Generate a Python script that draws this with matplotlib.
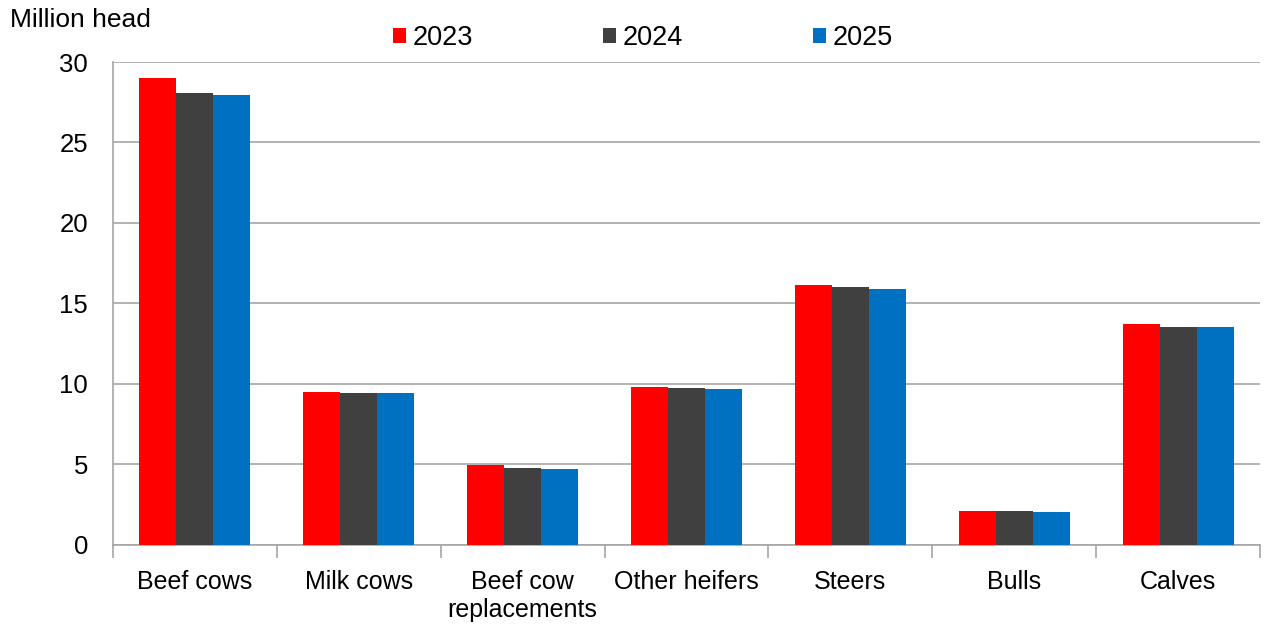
import numpy as np
import matplotlib
matplotlib.use('Agg')
import matplotlib.pyplot as plt

plt.rcParams['font.family'] = ['Liberation Sans', 'DejaVu Sans']

categories = ['Beef cows', 'Milk cows', 'Beef cow\nreplacements', 'Other heifers',
              'Steers', 'Bulls', 'Calves']
years = ['2023', '2024', '2025']
v2023 = [29.03, 9.46, 4.96, 9.79, 16.12, 2.08, 13.71]
v2024 = [28.08, 9.40, 4.78, 9.71, 16.01, 2.08, 13.55]
v2025 = [27.95, 9.40, 4.72, 9.65, 15.87, 2.04, 13.53]
colors = ['#FF0000', '#404040', '#0070C0']


def run():
    fig = plt.figure(figsize=(12.67, 6.29), dpi=100)
    ax = fig.add_axes([0.0892, 0.1343, 0.9053, 0.7671])

    x = np.arange(len(categories))
    w = 0.226
    for i, vals in enumerate([v2023, v2024, v2025]):
        ax.bar(x + (i - 1) * w, vals, w, color=colors[i], label=years[i], zorder=3)

    ax.set_xlim(-0.5, len(categories) - 0.5)
    ax.set_ylim(0, 30)
    ax.set_yticks(range(0, 31, 5))
    ax.yaxis.grid(True, color='#A6A6A6', linewidth=1.2, zorder=0)
    ax.set_xticks(x)
    ax.set_xticklabels(categories, fontsize=18, linespacing=1.25)
    ax.set_xticks(np.arange(-0.5, len(categories), 1), minor=True)
    ax.tick_params(axis='x', which='major', length=0, pad=18)
    ax.tick_params(axis='x', which='minor', length=9, color='#A6A6A6', width=1.2)
    ax.tick_params(axis='y', length=0, pad=18, labelsize=18.5)

    for s in ['top', 'right']:
        ax.spines[s].set_visible(False)
    for s in ['left', 'bottom']:
        ax.spines[s].set_color('#A6A6A6')
        ax.spines[s].set_linewidth(1.2)

    fig.text(10 / 1267, 1 - 20 / 629, 'Million head', fontsize=19, va='center', ha='left')
    fig.legend(loc='center left', bbox_to_anchor=(393 / 1267, 1 - 38 / 629), ncol=3,
               frameon=False, fontsize=19.5, handlelength=0.48, handleheight=0.48,
               handletextpad=0.26, columnspacing=4.78, borderaxespad=0, borderpad=0)

    fig.savefig('out.png', dpi=100)


if __name__ == '__main__':
    run()
